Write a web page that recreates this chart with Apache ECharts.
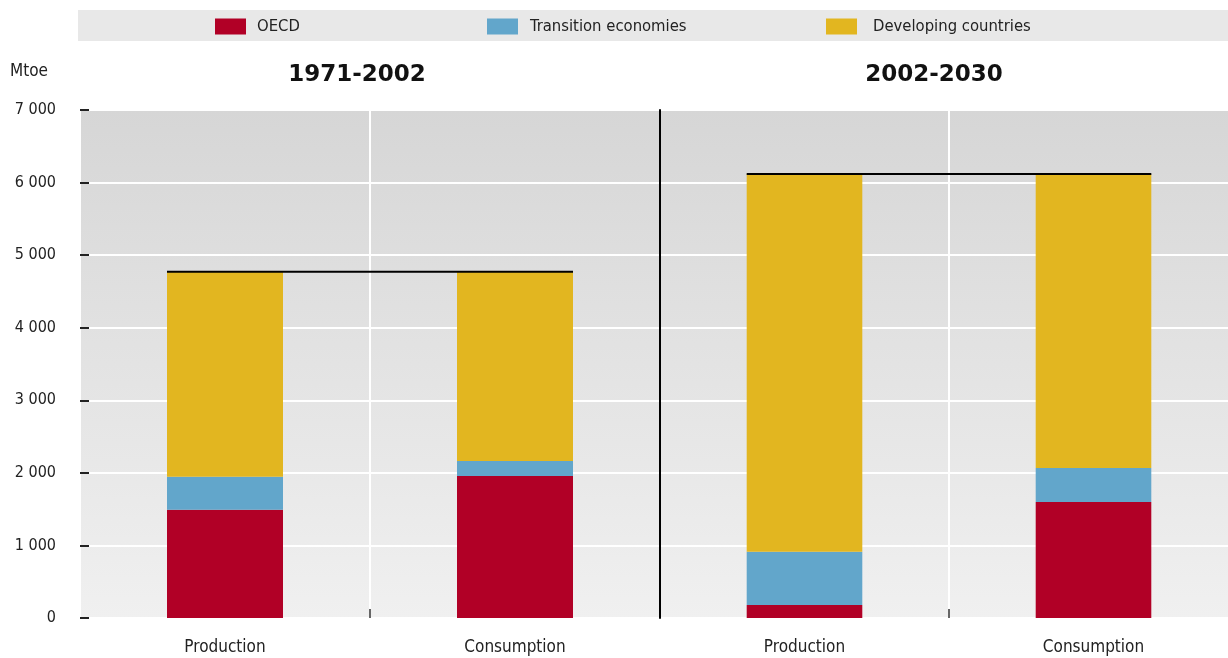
<!DOCTYPE html>
<html>
<head>
<meta charset="utf-8">
<script src="https://cdn.jsdelivr.net/npm/echarts@6/dist/echarts.min.js"></script>
<style>
  html, body { margin: 0; padding: 0; background: #fff; }
  #chart { width: 1228px; height: 658px; }
</style>
</head>
<body>
<div id="chart"></div>
<script>
// Oil production and consumption increase by region (Mtoe)
const categories = ['Production', 'Consumption'];
const periods = ['1971-2002', '2002-2030'];
const seriesNames = ['OECD', 'Transition economies', 'Developing countries'];

// Values per period: [Production, Consumption]
const oecd1971 = [1490, 1955];
const transition1971 = [455, 208];
const developing1971 = [2825, 2605];

const oecd2002 = [180, 1600];
const transition2002 = [734, 467];
const developing2002 = [5204, 4051];

const yTicks = [0, 1000, 2000, 3000, 4000, 5000, 6000, 7000];

const colors = ['#b10026', '#62a6cb', '#e2b620'];
const FONT = '"DejaVu Sans Condensed", "Liberation Sans", sans-serif';

const periodData = [
  [oecd1971, transition1971, developing1971],
  [oecd2002, transition2002, developing2002]
];

function fmtThousands(v) {
  return String(v).replace(/\B(?=(\d{3})+(?!\d))/g, ' ');
}

const chart = echarts.init(document.getElementById('chart'), null, { renderer: 'canvas' });

const bg = new echarts.graphic.LinearGradient(0, 0, 0, 1, [
  { offset: 0, color: '#d6d6d6' },
  { offset: 1, color: '#f0f0f0' }
]);

const grids = [
  { left: 80, top: 110, width: 580, height: 508, show: true, backgroundColor: bg, borderWidth: 0, outerBoundsMode: 'none' },
  { left: 660, top: 110, width: 578, height: 508, show: true, backgroundColor: bg, borderWidth: 0, outerBoundsMode: 'none' }
];

const xAxes = grids.map((g, i) => ({
  type: 'category',
  gridIndex: i,
  data: categories,
  boundaryGap: true,
  axisLine: { show: false },
  axisTick: { show: false },
  splitLine: { show: true, lineStyle: { color: '#ffffff', width: 2 } },
  axisLabel: { color: '#222', fontSize: 17, fontFamily: FONT, margin: 21 }
}));

const yAxes = grids.map((g, i) => ({
  type: 'value',
  gridIndex: i,
  min: yTicks[0],
  max: yTicks[yTicks.length - 1],
  interval: 1000,
  z: 1,
  axisLine: { show: i === 1, onZero: false, lineStyle: { color: '#000', width: 2 } },
  axisTick: { show: i === 0, inside: true, length: 9, lineStyle: { color: '#222', width: 2 } },
  splitLine: { show: true, lineStyle: { color: '#ffffff', width: 2 } },
  axisLabel: {
    show: i === 0,
    color: '#222',
    fontSize: 16,
    fontFamily: FONT,
    margin: 24,
    formatter: v => fmtThousands(v)
  }
}));

const series = [];
periodData.forEach((groups, p) => {
  groups.forEach((vals, k) => {
    series.push({
      name: seriesNames[k],
      type: 'bar',
      stack: 'total' + p,
      xAxisIndex: p,
      yAxisIndex: p,
      barWidth: '40%',
      itemStyle: { color: colors[k] },
      data: vals,
      z: 2
    });
  });
  // Total line spanning both bars of the period, plus the tick between categories
  const total = groups[0][0] + groups[1][0] + groups[2][0];
  series.push({
    type: 'custom',
    xAxisIndex: p,
    yAxisIndex: p,
    z: 5,
    silent: true,
    data: [[0, 1, total]],
    encode: { x: 0, y: 2 },
    renderItem: (params, api) => {
      const v = api.value(2);
      const a = api.coord([api.value(0), v]);
      const b = api.coord([api.value(1), v]);
      const base = api.coord([api.value(0), 0])[1];
      const band = api.size([1, 0])[0];
      const half = band * 0.2;
      const mid = (a[0] + b[0]) / 2;
      return {
        type: 'group',
        children: [
          {
            type: 'line',
            shape: { x1: mid, y1: base - 9, x2: mid, y2: base },
            style: { stroke: '#666', lineWidth: 2 }
          },
          {
            type: 'line',
            shape: { x1: a[0] - half, y1: a[1], x2: b[0] + half, y2: b[1] },
            style: { stroke: '#000', lineWidth: 2 }
          }
        ]
      };
    }
  });
});

const legendBase = {
  orient: 'horizontal',
  top: 18,
  itemWidth: 31,
  itemHeight: 16,
  icon: 'rect',
  padding: 0,
  selectedMode: false
};

const option = {
  animation: false,
  color: colors,
  grid: grids,
  xAxis: xAxes,
  yAxis: yAxes,
  legend: [
    Object.assign({}, legendBase, { left: 215, data: [seriesNames[0]], textStyle: { color: '#222', fontSize: 16.5, fontFamily: FONT, padding: [0, 0, 0, 6] } }),
    Object.assign({}, legendBase, { left: 487, data: [seriesNames[1]], textStyle: { color: '#222', fontSize: 16.5, fontFamily: FONT, padding: [0, 0, 0, 7] } }),
    Object.assign({}, legendBase, { left: 826, data: [seriesNames[2]], textStyle: { color: '#222', fontSize: 16.5, fontFamily: FONT, padding: [0, 0, 0, 11] } })
  ],
  graphic: [
    { type: 'rect', z: -10, shape: { x: 78, y: 10, width: 1150, height: 31 }, style: { fill: '#e8e8e8' } },
    { type: 'text', x: 10, y: 72, style: { text: 'Mtoe', fill: '#222', font: '17px ' + FONT, textVerticalAlign: 'middle' } },
    { type: 'text', x: 357, y: 75, style: { text: periods[0], fill: '#111', font: 'bold 23px "DejaVu Sans", Verdana, sans-serif', textAlign: 'center', textVerticalAlign: 'middle' } },
    { type: 'text', x: 934, y: 75, style: { text: periods[1], fill: '#111', font: 'bold 23px "DejaVu Sans", Verdana, sans-serif', textAlign: 'center', textVerticalAlign: 'middle' } }
  ],
  series: series
};

chart.setOption(option);
</script>
</body>
</html>
